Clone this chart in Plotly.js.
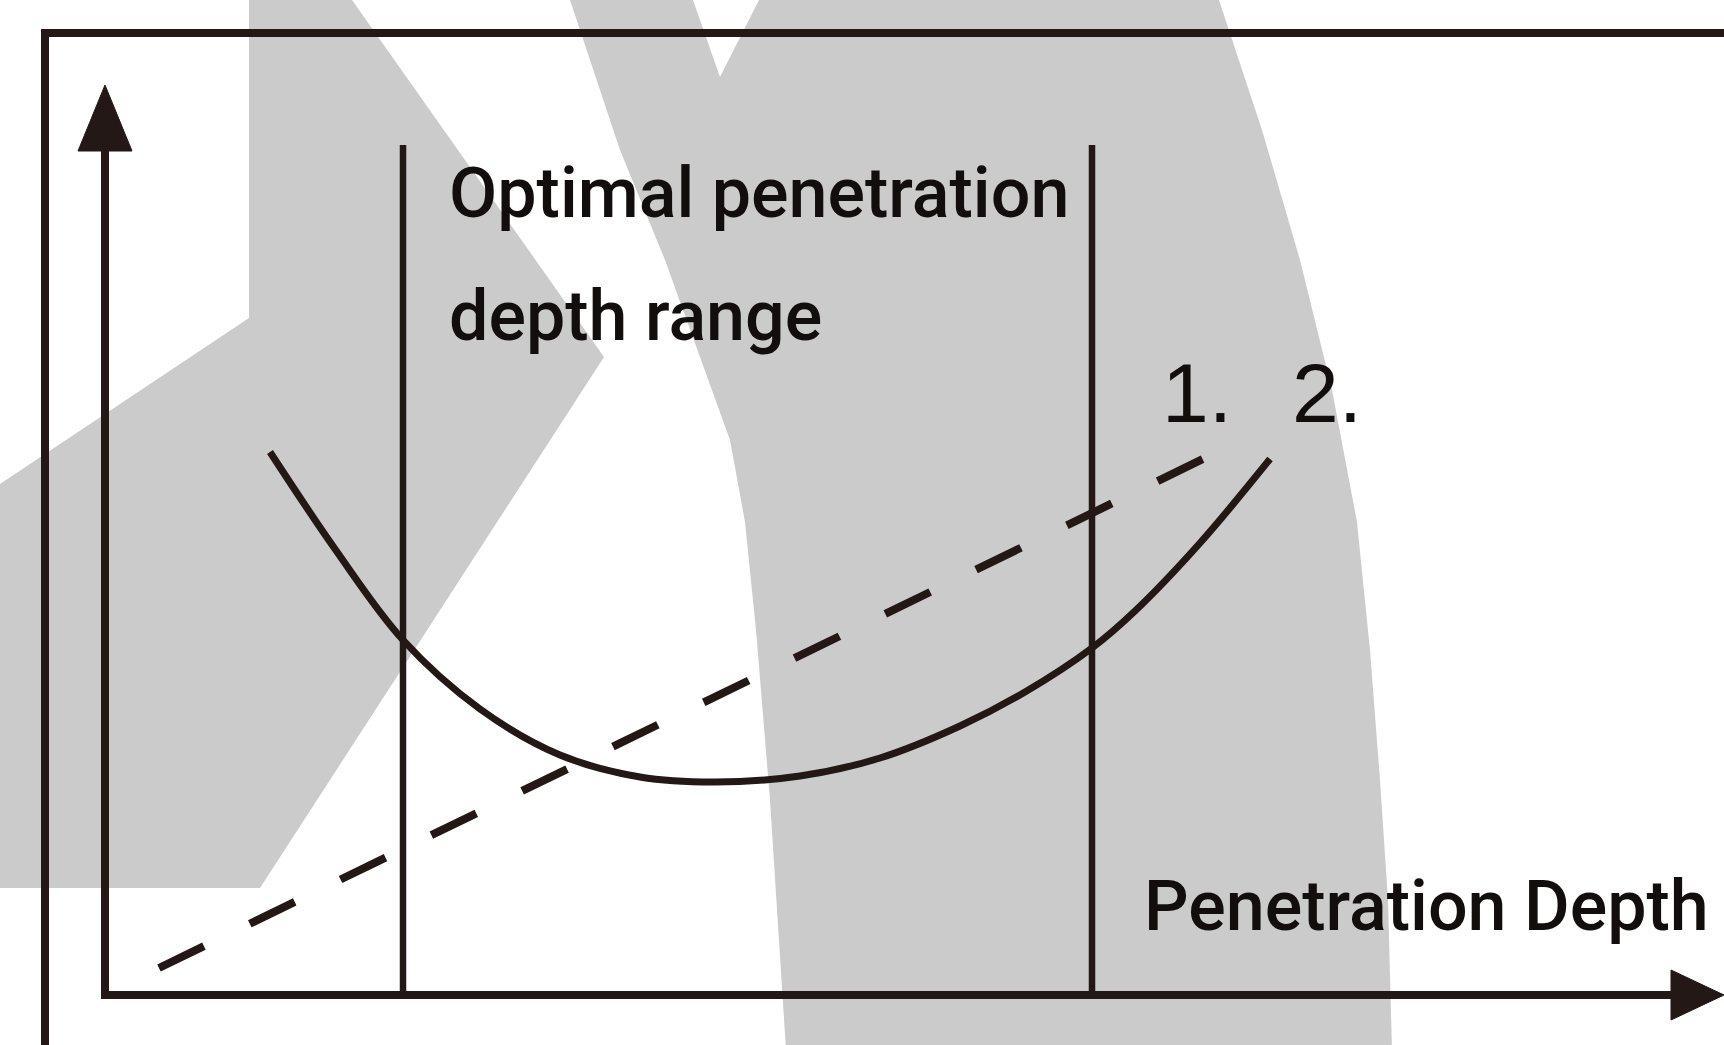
<!DOCTYPE html>
<html>
<head>
<meta charset="utf-8">
<script src="https://cdn.plot.ly/plotly-3.0.1.min.js"></script>
<style>
  html, body { margin: 0; padding: 0; background: #ffffff; }
  #chart { width: 1724px; height: 1045px; }
</style>
</head>
<body>
<div id="chart"></div>
<script>
// ---------------- data (schematic units) ----------------
// Curve 2 (solid U-shaped curve)
const curve2X = [1.65, 2.30, 2.98, 3.75, 4.55, 5.35, 6.10, 6.95, 7.75, 8.55, 9.20, 9.87, 10.30, 10.95, 11.65];
const curve2Y = [5.43, 4.46, 3.55, 2.86, 2.40, 2.18, 2.13, 2.19, 2.37, 2.69, 3.03, 3.47, 3.84, 4.52, 5.36];
// Curve 1 (dashed straight line)
const curve1X = [0.54, 10.98];
const curve1Y = [0.27, 5.36];
// Optimal penetration depth range boundaries
const optimalBounds = [2.98, 9.87];
const boundTop = 8.5;
// Axis extents
const yAxisTop = 9.10;
const xAxisEnd = 16.19;
// Texts
const regionLabel = ['Optimal penetration', 'depth range'];
const xAxisLabel = 'Penetration Depth';
const seriesLabels = ['1.', '2.'];

// ---------------- styles ----------------
const INK = '#231815';
const GRAY = '#cbcbcb';
const W = 1724, H = 1045;

// decoration helper: pixel polygon -> paper path
function paperPath(pts, close) {
  let s = '';
  pts.forEach((p, i) => {
    s += (i === 0 ? 'M ' : ' L ') + (p[0] / W).toFixed(5) + ',' + (1 - p[1] / H).toFixed(5);
  });
  return s + (close ? ' Z' : '');
}

// Watermark (background logo) shapes
const wmLeft = [[249,0],[352,0],[604,357],[260,888],[0,888],[0,484],[249,318]];
const wmArc = [[570,0],[620,150],[665,260],[700,357],[730,440],[745,522],[756,630],[770,800],[786,1050],
               [1392,1050],[1388,900],[1380,780],[1370,650],[1357,522],[1332,390],[1300,260],[1262,130],[1219,0],
               [759,0],[720,77],[693,0]];

const shapes = [
  {type:'path', xref:'paper', yref:'paper', layer:'below', path: paperPath(wmLeft, true), fillcolor: GRAY, line:{width:0}},
  {type:'path', xref:'paper', yref:'paper', layer:'below', path: paperPath(wmArc, true), fillcolor: GRAY, line:{width:0}},
  // outer frame
  {type:'path', xref:'x', yref:'y', layer:'above',
   path: 'M -0.60,-1 L -0.60,9.62 L 17,9.62', line:{color: INK, width: 8}},
  // axes
  {type:'path', xref:'x', yref:'y', layer:'above',
   path: 'M 0,8.5 L 0,0 L 15.7,0', line:{color: INK, width: 8}},
  // y arrow head
  {type:'path', xref:'x', yref:'y', layer:'above',
   path: 'M -0.27,8.44 L 0,' + yAxisTop + ' L 0.27,8.44 Z', fillcolor: INK, line:{color: INK, width: 1}},
  // x arrow head
  {type:'path', xref:'x', yref:'y', layer:'above',
   path: 'M 15.66,0.25 L ' + xAxisEnd + ',0 L 15.66,-0.25 Z', fillcolor: INK, line:{color: INK, width: 1}}
];

const traces = [
  {x: [optimalBounds[0], optimalBounds[0], null, optimalBounds[1], optimalBounds[1]],
   y: [0, boundTop, null, 0, boundTop], mode: 'lines', line: {color: INK, width: 6.5},
   hoverinfo: 'skip', showlegend: false},
  {x: curve1X, y: curve1Y, mode: 'lines', line: {color: INK, width: 8, dash: '50px,51px'},
   hoverinfo: 'skip', showlegend: false, name: seriesLabels[0]},
  {x: curve2X, y: curve2Y, mode: 'lines', line: {color: INK, width: 7, shape: 'spline', smoothing: 1},
   hoverinfo: 'skip', showlegend: false, name: seriesLabels[1]}
];

const labelFont = {family: 'Roboto, "Noto Sans", sans-serif', size: 70, color: '#120e0d', weight: 500};
const numFont = {family: '"Liberation Sans", Arial, sans-serif', size: 84, color: '#120e0d'};

const annotations = [
  {text: regionLabel[0], x: 3.42, y: 8.45, xanchor: 'left', yanchor: 'top', showarrow: false, font: labelFont},
  {text: regionLabel[1], x: 3.42, y: 7.22, xanchor: 'left', yanchor: 'top', showarrow: false, font: labelFont},
  {text: xAxisLabel, x: 10.37, y: 1.32, xanchor: 'left', yanchor: 'top', showarrow: false, font: labelFont},
  {text: seriesLabels[0], x: 10.55, y: 6.51, xanchor: 'left', yanchor: 'top', showarrow: false, font: numFont},
  {text: seriesLabels[1], x: 11.85, y: 6.51, xanchor: 'left', yanchor: 'top', showarrow: false, font: numFont}
];

const layout = {
  width: W, height: H,
  margin: {l: 0, r: 0, t: 0, b: 0, pad: 0},
  paper_bgcolor: '#ffffff',
  plot_bgcolor: 'rgba(0,0,0,0)',
  xaxis: {range: [-1.05, 16.19], visible: false, fixedrange: true},
  yaxis: {range: [-0.5, 9.95], visible: false, fixedrange: true},
  shapes: shapes,
  annotations: annotations,
  showlegend: false
};

Plotly.newPlot('chart', traces, layout, {staticPlot: true, displayModeBar: false});
</script>
</body>
</html>
